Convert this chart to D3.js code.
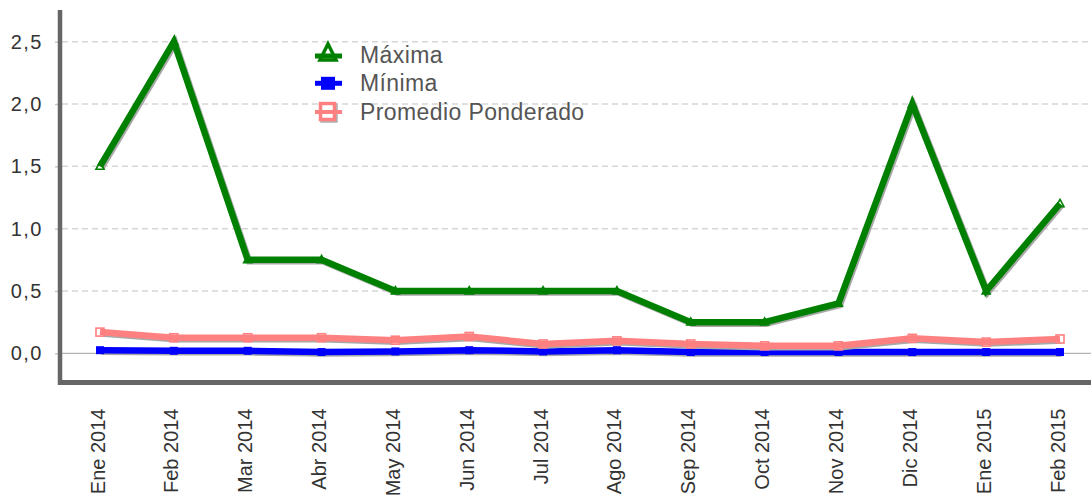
<!DOCTYPE html>
<html>
<head>
<meta charset="utf-8">
<script src="https://cdn.jsdelivr.net/npm/d3@7"></script>
<style>
  html, body { margin: 0; padding: 0; background: #fff; }
  svg { display: block; }
  text { font-family: "Liberation Sans", Arial, sans-serif; }
</style>
</head>
<body>
<svg id="chart" width="1091" height="498"></svg>
<script>
// Monthly categories
const months = ["Ene 2014", "Feb 2014", "Mar 2014", "Abr 2014", "May 2014", "Jun 2014", "Jul 2014",
                "Ago 2014", "Sep 2014", "Oct 2014", "Nov 2014", "Dic 2014", "Ene 2015", "Feb 2015"];

// Series values
const maxima   = [1.5, 2.5, 0.75, 0.75, 0.5, 0.5, 0.5, 0.5, 0.25, 0.25, 0.4, 2.0, 0.5, 1.2];
const minima   = [0.025, 0.02, 0.02, 0.01, 0.015, 0.025, 0.015, 0.025, 0.01, 0.01, 0.01, 0.01, 0.01, 0.01];
const promedio = [0.17, 0.125, 0.125, 0.125, 0.105, 0.135, 0.075, 0.1, 0.075, 0.06, 0.06, 0.12, 0.09, 0.115];

// Y ticks
const yTicks = [0, 0.5, 1.0, 1.5, 2.0, 2.5];

const series = [
  { name: "Máxima", values: maxima, color: "#008000", marker: "triangle" },
  { name: "Mínima", values: minima, color: "#0000ff", marker: "square" },
  { name: "Promedio Ponderado", values: promedio, color: "#ff8080", marker: "hollow" }
];

const svg = d3.select("#chart");
const plotLeft = 60, plotRight = 1091, plotTop = 10, plotBottom = 382.5;

const x = d3.scalePoint().domain(months).range([100, 1060]);
const y = d3.scaleLinear().domain([0, 2.5]).range([353.3, 41.7]);

const fmt = v => d3.format(".1f")(v).replace(".", ",");

// Gridlines
svg.append("g")
  .selectAll("line")
  .data(yTicks.filter(t => t !== 0))
  .join("line")
  .attr("x1", plotLeft + 2).attr("x2", plotRight)
  .attr("y1", d => y(d)).attr("y2", d => y(d))
  .attr("stroke", "#d6d6d6").attr("stroke-width", 1.5)
  .attr("stroke-dasharray", "6,4");

// Zero line
svg.append("line")
  .attr("x1", plotLeft + 2).attr("x2", plotRight)
  .attr("y1", y(0)).attr("y2", y(0))
  .attr("stroke", "#a0a0a0").attr("stroke-width", 1);

// Y axis
const yAxis = d3.axisLeft(y).tickValues(yTicks).tickFormat(fmt).tickSize(4).tickPadding(12);
const gy = svg.append("g").attr("transform", `translate(${plotLeft - 1},0)`).call(yAxis);
gy.select(".domain").remove();
gy.selectAll(".tick line").attr("stroke", "#c8c8c8").attr("stroke-width", 1.5);
gy.selectAll(".tick text")
  .attr("fill", "#333").style("font-size", "20px").style("letter-spacing", "1.5px")
  .style("font-family", "'Liberation Sans', Arial, sans-serif");

// X axis labels (rotated)
const xAxis = d3.axisBottom(x).tickSize(0).tickPadding(0);
const gx = svg.append("g").attr("transform", `translate(0,${plotBottom})`).call(xAxis);
gx.select(".domain").remove();
gx.selectAll(".tick text")
  .attr("fill", "#333").style("font-size", "20px")
  .style("font-family", "'Liberation Sans', Arial, sans-serif")
  .attr("text-anchor", "end")
  .attr("transform", "translate(-3,26) rotate(-90)")
  .attr("x", 0).attr("y", 0).attr("dy", "0.35em");

// Axis frame lines
svg.append("line")
  .attr("x1", plotLeft).attr("x2", plotLeft)
  .attr("y1", plotTop).attr("y2", plotBottom + 2.5)
  .attr("stroke", "#666").attr("stroke-width", 4.5);
svg.append("line")
  .attr("x1", plotLeft - 2).attr("x2", plotRight)
  .attr("y1", plotBottom).attr("y2", plotBottom)
  .attr("stroke", "#666").attr("stroke-width", 5);

const line = d3.line().x((d, i) => x(months[i])).y(d => y(d));

function drawMarker(g, type, cx, cy, color, size) {
  if (type === "triangle") {
    const h = size * 0.9;
    g.append("path")
      .attr("d", `M${cx},${cy - h * 0.6} L${cx + size / 2},${cy + h * 0.4} L${cx - size / 2},${cy + h * 0.4} Z`)
      .attr("fill", "#fff").attr("stroke", color).attr("stroke-width", 1.6);
  } else if (type === "square") {
    g.append("rect")
      .attr("x", cx - size / 2).attr("y", cy - size / 2)
      .attr("width", size).attr("height", size)
      .attr("fill", color);
  } else {
    g.append("rect")
      .attr("x", cx - size / 2).attr("y", cy - size / 2)
      .attr("width", size).attr("height", size)
      .attr("fill", "#fff").attr("stroke", color).attr("stroke-width", 1.6);
  }
}

// Draw series: shadow, markers, then the line on top
series.forEach(s => {
  const g = svg.append("g");
  g.append("path")
    .datum(s.values)
    .attr("d", line)
    .attr("transform", "translate(1.5,1.5)")
    .attr("fill", "none").attr("stroke", "#a8a8a8").attr("stroke-width", 6.5)
    .attr("stroke-linejoin", "miter");
  s.values.forEach((v, i) => drawMarker(g, s.marker, x(months[i]), y(v), s.color, 8));
  g.append("path")
    .datum(s.values)
    .attr("d", line)
    .attr("fill", "none").attr("stroke", s.color).attr("stroke-width", 6.5)
    .attr("stroke-linejoin", "miter");
});

// Legend
const legendRows = [55, 83.3, 112];
const legend = svg.append("g");
series.forEach((s, i) => {
  const cy = legendRows[i];
  const row = legend.append("g");
  if (s.marker === "triangle") {
    row.append("line").attr("x1", 315).attr("x2", 342).attr("y1", cy + 1).attr("y2", cy + 1)
      .attr("stroke", s.color).attr("stroke-width", 5);
    row.append("path")
      .attr("d", `M328,${cy - 11} L336,${cy + 5} L320,${cy + 5} Z`)
      .attr("fill", "none").attr("stroke", s.color).attr("stroke-width", 3.5);
  } else if (s.marker === "square") {
    row.append("line").attr("x1", 315).attr("x2", 342).attr("y1", cy).attr("y2", cy)
      .attr("stroke", s.color).attr("stroke-width", 5);
    row.append("rect").attr("x", 321).attr("y", cy - 6.5).attr("width", 14).attr("height", 13)
      .attr("fill", s.color);
  } else {
    row.append("rect").attr("x", 322).attr("y", cy - 7).attr("width", 14).attr("height", 16)
      .attr("fill", "none").attr("stroke", "#b0b0b0").attr("stroke-width", 3.5);
    row.append("rect").attr("x", 320.5).attr("y", cy - 8.5).attr("width", 14).attr("height", 16)
      .attr("fill", "#fff").attr("stroke", s.color).attr("stroke-width", 3.5);
    row.append("line").attr("x1", 315).attr("x2", 342).attr("y1", cy).attr("y2", cy)
      .attr("stroke", s.color).attr("stroke-width", 4);
  }
  row.append("text")
    .attr("x", 360).attr("y", cy).attr("dy", "0.35em")
    .attr("fill", "#555").style("font-size", "23px").style("letter-spacing", "0.4px")
    .text(s.name);
});
</script>
</body>
</html>
